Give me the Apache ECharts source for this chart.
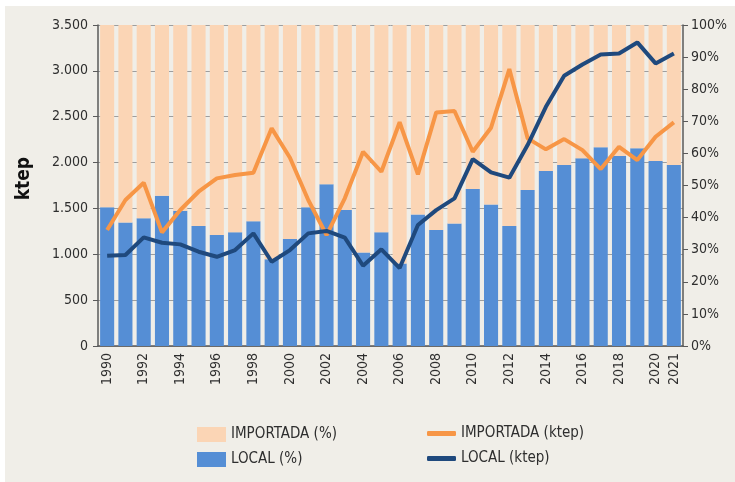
<!DOCTYPE html>
<html>
<head>
<meta charset="utf-8">
<script src="https://cdn.jsdelivr.net/npm/echarts@6/dist/echarts.min.js"></script>
<style>
    html, body { margin: 0; padding: 0; background: #ffffff; }
    #chart { width: 735px; height: 482px; }
</style>
</head>
<body>
<div id="chart"></div>
<script>
    // Data
    const years = ['1990', '1991', '1992', '1993', '1994', '1995', '1996', '1997', '1998', '1999',
        '2000', '2001', '2002', '2003', '2004', '2005', '2006', '2007', '2008', '2009',
        '2010', '2011', '2012', '2013', '2014', '2015', '2016', '2017', '2018', '2019',
        '2020', '2021'];
    const localPct = [43.2, 38.5, 39.8, 46.8, 42.1, 37.4, 34.6, 35.4, 38.9, 27.0,
        33.3, 43.2, 50.4, 42.4, 29.1, 35.4, 25.7, 41.0, 36.1, 38.2,
        48.9, 44.1, 37.4, 48.6, 54.5, 56.4, 58.5, 61.9, 59.2, 61.6,
        57.6, 56.4];
    const importPct = [56.8, 61.5, 60.2, 53.2, 57.9, 62.6, 65.4, 64.6, 61.1, 73.0,
        66.7, 56.8, 49.6, 57.6, 70.9, 64.6, 74.3, 59.0, 63.9, 61.8,
        51.1, 55.9, 62.6, 51.4, 45.5, 43.6, 41.5, 38.1, 40.8, 38.4,
        42.4, 43.6];
    const importKtep = [1265, 1592, 1780, 1239, 1483, 1682, 1828, 1864, 1889, 2373,
        2053, 1592, 1210, 1610, 2118, 1900, 2440, 1872, 2547, 2562,
        2118, 2380, 3019, 2264, 2144, 2256, 2136, 1929, 2172, 2027,
        2281, 2438];
    const localKtep = [984, 992, 1185, 1126, 1108, 1028, 973, 1046, 1228, 919,
        1046, 1228, 1254, 1181, 875, 1054, 850, 1319, 1482, 1610,
        2038, 1893, 1835, 2191, 2608, 2946, 3070, 3179, 3190, 3310,
        3081, 3190];

    const FONT = '"Liberation Sans Narrow", "DejaVu Sans Condensed", sans-serif';
    const TEXT = '#2e2e2e';
    const AXIS = '#5a5a5a';

    function thousands(v) {
        return String(v).replace(/\B(?=(\d{3})+(?!\d))/g, '.');
    }

    const chart = echarts.init(document.getElementById('chart'));
    const option = {
        animation: false,
        backgroundColor: '#ffffff',
        textStyle: { fontFamily: FONT, color: TEXT },
        graphic: [{
            type: 'rect',
            z: -100,
            silent: true,
            shape: { x: 5, y: 6, width: 730, height: 476 },
            style: { fill: '#f0eee8' }
        }, {
            type: 'text',
            left: 15,
            top: 157,
            rotation: Math.PI / 2,
            style: {
                text: 'ktep',
                font: 'bold 19px ' + FONT,
                fill: '#111111'
            }
        }],
        grid: {
            left: 98,
            right: 52,
            top: 25,
            bottom: 136
        },
        legend: [{
            orient: 'vertical',
            left: 192,
            top: 422,
            icon: 'rect',
            itemWidth: 29,
            itemHeight: 15,
            itemGap: 10,
            textStyle: { fontFamily: FONT, fontSize: 15, color: TEXT },
            data: ['IMPORTADA (%)', 'LOCAL (%)']
        }, {
            orient: 'vertical',
            left: 422,
            top: 421,
            icon: 'roundRect',
            itemWidth: 29,
            itemHeight: 5,
            itemGap: 10,
            textStyle: { fontFamily: FONT, fontSize: 15, color: TEXT },
            data: ['IMPORTADA (ktep)', 'LOCAL (ktep)']
        }],
        xAxis: {
            type: 'category',
            data: years,
            axisLine: { lineStyle: { color: AXIS, width: 1.5 } },
            axisTick: {
                alignWithLabel: true,
                interval: 0,
                length: 4,
                lineStyle: { color: AXIS }
            },
            axisLabel: {
                rotate: 90,
                margin: 7,
                fontSize: 14,
                color: TEXT,
                fontFamily: FONT,
                interval: function (idx) {
                    return idx % 2 === 0 || idx === years.length - 1;
                }
            }
        },
        yAxis: [{
            type: 'value',
            min: 0,
            max: 3500,
            interval: 500,
            axisLine: { show: true, lineStyle: { color: AXIS, width: 1.5 } },
            axisTick: { show: true, length: 5, lineStyle: { color: AXIS } },
            splitLine: { lineStyle: { color: '#9e9e9e', width: 1 } },
            axisLabel: {
                fontSize: 14,
                color: TEXT,
                fontFamily: FONT,
                margin: 10,
                formatter: thousands
            }
        }, {
            type: 'value',
            min: 0,
            max: 100,
            interval: 10,
            position: 'right',
            axisLine: { show: true, lineStyle: { color: AXIS, width: 1.5 } },
            axisTick: { show: true, length: 5, lineStyle: { color: AXIS } },
            splitLine: { show: false },
            axisLabel: {
                fontSize: 14,
                color: TEXT,
                fontFamily: FONT,
                margin: 8,
                formatter: '{value}%'
            }
        }],
        series: [{
            name: 'LOCAL (%)',
            type: 'bar',
            stack: 'pct',
            yAxisIndex: 1,
            barCategoryGap: '23%',
            itemStyle: { color: '#558ed5' },
            data: localPct
        }, {
            name: 'IMPORTADA (%)',
            type: 'bar',
            stack: 'pct',
            yAxisIndex: 1,
            barCategoryGap: '23%',
            itemStyle: { color: '#fbd5b5' },
            data: importPct
        }, {
            name: 'IMPORTADA (ktep)',
            type: 'line',
            yAxisIndex: 0,
            symbol: 'none',
            z: 5,
            itemStyle: { color: '#f79646' },
            lineStyle: { color: '#f79646', width: 4 },
            data: importKtep
        }, {
            name: 'LOCAL (ktep)',
            type: 'line',
            yAxisIndex: 0,
            symbol: 'none',
            z: 6,
            itemStyle: { color: '#1f497d' },
            lineStyle: { color: '#1f497d', width: 4 },
            data: localKtep
        }]
    };
    chart.setOption(option);
</script>
</body>
</html>
